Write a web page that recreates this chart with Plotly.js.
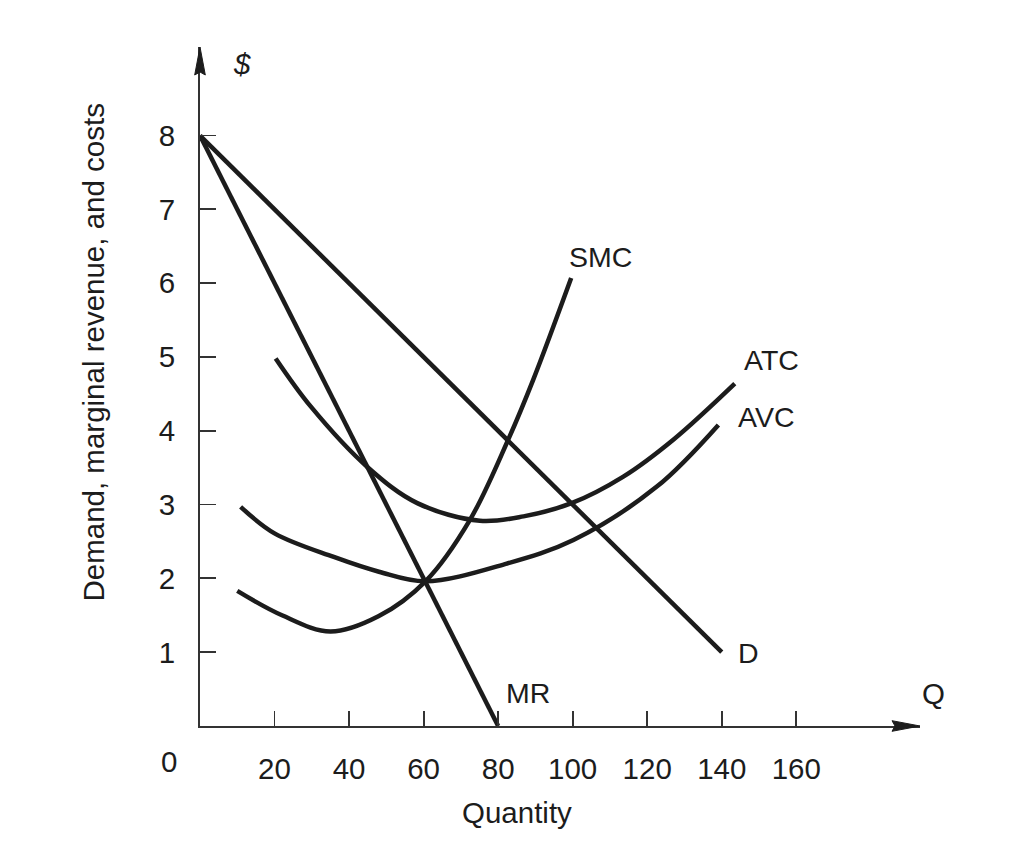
<!DOCTYPE html>
<html>
<head>
<meta charset="utf-8">
<script src="https://cdn.plot.ly/plotly-3.0.1.min.js"></script>
<style>
  html, body { margin: 0; padding: 0; background: #fff; }
  #chart { width: 1024px; height: 863px; }
</style>
</head>
<body>
<div id="chart"></div>
<script>
// ---- Data ----
const demandX = [0, 140];
const demandY = [8, 1];

const mrX = [0, 80];
const mrY = [8, 0];

const smcX = [10, 22, 35, 48, 60.5, 72.4, 82.7, 89.4, 99.6];
const smcY = [1.83, 1.50, 1.28, 1.49, 1.96, 2.79, 3.88, 4.69, 6.07];

const avcX = [10.9, 20, 35.9, 48, 60.5, 82.3, 100.2, 122.5, 139.1];
const avcY = [2.97, 2.61, 2.29, 2.09, 1.96, 2.20, 2.52, 3.24, 4.08];

const atcX = [20.3, 29.7, 44.9, 58.3, 75.1, 86.8, 99.7, 113.6, 127, 143.5];
const atcY = [4.98, 4.33, 3.51, 3.02, 2.78, 2.84, 3.02, 3.38, 3.88, 4.64];

const xTickVals = [20, 40, 60, 80, 100, 120, 140, 160];
const xTickText = ["20", "40", "60", "80", "100", "120", "140", "160"];
const yTickVals = [1, 2, 3, 4, 5, 6, 7, 8];
const yTickText = ["1", "2", "3", "4", "5", "6", "7", "8"];

const curveLabels = ["SMC", "ATC", "AVC", "D", "MR"];
const curveLabelX = [107.5, 153.4, 152.1, 147.1, 88.0];
const curveLabelY = [6.36, 4.96, 4.19, 0.985, 0.447];

const xTitle = "Quantity";
const yTitle = "Demand, marginal revenue, and costs";

// ---- Styling ----
const FONT = "Liberation Sans, Arial, Helvetica, sans-serif";
const INK = "#1c1c1c";
const AXIS = "#333333";
const LW = 4.5;
const FS = 29.5;
const X_MAX = 193.2;
const Y_MAX = 9.2;

function curve(x, y, shape) {
  return {
    type: "scatter", mode: "lines", x: x, y: y,
    line: { color: INK, width: LW, shape: shape || "linear", smoothing: 1 },
    hoverinfo: "skip", showlegend: false
  };
}

const traces = [
  curve(demandX, demandY),
  curve(mrX, mrY),
  curve(smcX, smcY, "spline"),
  curve(avcX, avcY, "spline"),
  curve(atcX, atcY, "spline")
];

const annotations = curveLabels.map((t, i) => ({
  x: curveLabelX[i], y: curveLabelY[i], xref: "x", yref: "y",
  text: t, showarrow: false, font: { family: FONT, size: FS - 1, color: INK }
}));

annotations.push(
  { x: 0, y: 0, xref: "x", yref: "y", text: "0", showarrow: false,
    xshift: -31, yshift: -35, font: { family: FONT, size: FS, color: INK } },
  { x: 11.2, y: 8.98, xref: "x", yref: "y", text: "<i>$</i>", showarrow: false,
    font: { family: FONT, size: FS, color: INK } },
  { x: 1.037, y: 0.021, xref: "paper", yref: "paper", text: "Q", showarrow: false,
    font: { family: FONT, size: FS, color: INK } },
  { x: 85, y: 0, xref: "x", yref: "y", text: xTitle, showarrow: false,
    yshift: -86, font: { family: FONT, size: FS, color: INK } },
  { x: 0, y: 5.06, xref: "x", yref: "y", text: yTitle, showarrow: false,
    textangle: -90, xshift: -106, font: { family: FONT, size: FS, color: INK } }
);

const shapes = [
  { type: "path", xref: "paper", yref: "paper", xsizemode: "pixel", ysizemode: "pixel",
    xanchor: 1, yanchor: 0, path: "M0,0 L-28,5.3 L-25,0 L-28,-5.3 Z",
    fillcolor: INK, line: { color: INK, width: 1 } },
  { type: "path", xref: "paper", yref: "paper", xsizemode: "pixel", ysizemode: "pixel",
    xanchor: 0, yanchor: 1, path: "M0,0 L-5.3,-28 L0,-25 L5.3,-28 Z",
    fillcolor: INK, line: { color: INK, width: 1 } }
];

const layout = {
  width: 1024, height: 863,
  paper_bgcolor: "#ffffff", plot_bgcolor: "#ffffff",
  margin: { l: 200, r: 104, t: 47, b: 137 },
  showlegend: false,
  font: { family: FONT, color: INK, size: FS },
  xaxis: {
    range: [0, X_MAX], showgrid: false, zeroline: false,
    showline: true, linecolor: AXIS, linewidth: 2,
    ticks: "inside", ticklen: 15, tickwidth: 1.8, tickcolor: AXIS,
    tickmode: "array", tickvals: xTickVals, ticktext: xTickText,
    tickfont: { family: FONT, size: FS, color: INK }, ticklabelstandoff: 16,
    fixedrange: true
  },
  yaxis: {
    range: [0, Y_MAX], showgrid: false, zeroline: false,
    showline: true, linecolor: AXIS, linewidth: 2,
    ticks: "inside", ticklen: 16, tickwidth: 1.8, tickcolor: AXIS,
    tickmode: "array", tickvals: yTickVals, ticktext: yTickText,
    tickfont: { family: FONT, size: FS, color: INK }, ticklabelstandoff: 17,
    fixedrange: true
  },
  annotations: annotations,
  shapes: shapes
};

Plotly.newPlot("chart", traces, layout, { displayModeBar: false, staticPlot: true });
</script>
</body>
</html>
